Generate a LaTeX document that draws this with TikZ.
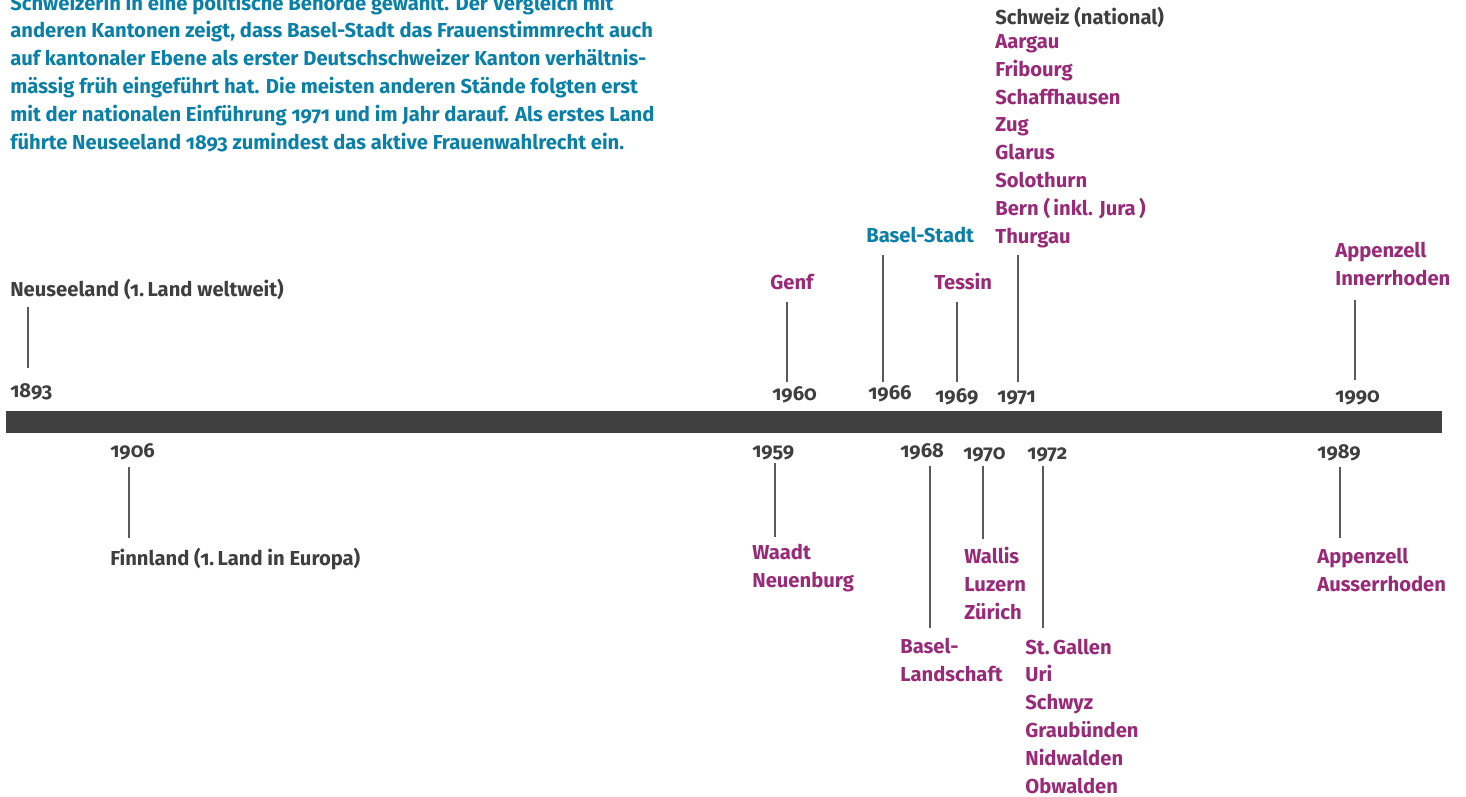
\documentclass[tikz,border=0pt]{standalone}
\usepackage{fontspec}
\setmainfont{Fira Sans}[Numbers=OldStyle]
\usepackage{xcolor}
\usepackage{tikz}
\usetikzlibrary{positioning}

\definecolor{bsblue}{HTML}{0A80A8}
\definecolor{bsmagenta}{HTML}{992A78}
\definecolor{bsgray}{HTML}{3F3F3F}
\definecolor{bsbar}{HTML}{404040}
\definecolor{bstick}{HTML}{5A5A5A}

\begin{document}
\begin{tikzpicture}[
    x=0.02cm, y=-0.02cm,
    lbl/.style={inner sep=0pt, anchor=base west, align=left,
        font=\bfseries\fontsize{11.5}{15.8}\selectfont},
    year/.style={lbl, text=bsgray},
    land/.style={lbl, text=bsgray},
    canton/.style={lbl, text=bsmagenta},
    intro/.style={lbl, text=bsblue},
    tick/.style={draw=bstick, line width=1.5pt/1.5}
]
\useasboundingbox (0,0) rectangle (1466,796);

% intro text (multi-line nodes sit on their last line)
\node[intro] (intro) at (10,149) {Schweizerin in eine politische Behörde gewählt. Der Vergleich mit\\
anderen Kantonen zeigt, dass Basel-Stadt das Frauenstimmrecht auch\\
auf kantonaler Ebene als erster Deutschschweizer Kanton verhältnis-\\
mässig früh eingeführt hat. Die meisten anderen Stände folgten erst\\
mit der nationalen Einführung 1971 und im Jahr darauf. Als erstes Land\\
führte Neuseeland 1893 zumindest das aktive Frauenwahlrecht ein.};

% time axis
\fill[bsbar] (6,411) rectangle (1442,433);
\node[inner sep=0pt, minimum width=0pt] (axis) at (724,422) {};

% years above the axis
\node[year] (y1893) at (10,397) {1893};
\node[year] (y1960) at (772,400) {1960};
\node[year] (y1966) at (868,399) {1966};
\node[year] (y1969) at (935,402) {1969};
\node[year] (y1971) at (997,402) {1971};
\node[year] (y1990) at (1335,402) {1990};

% years below the axis
\node[year] (y1906) at (110,457) {1906};
\node[year] (y1959) at (752,457) {1959};
\node[year] (y1968) at (900,457) {1968};
\node[year] (y1970) at (963,459) {1970};
\node[year] (y1972) at (1027,459) {1972};
\node[year] (y1989) at (1317,458) {1989};

% labels above
\node[land] (nz) at (10,296) {Neuseeland (1.\,Land weltweit)};
\node[canton] (genf) at (770,289) {Genf};
\node[intro] (bs) at (866,242) {Basel-Stadt};
\node[canton] (tessin) at (934,289) {Tessin};
\node[land] (ch) at (995,24) {Schweiz (national)};
\node[canton] (ch71) at (995,243) {Aargau\\Fribourg\\Schaffhausen\\Zug\\Glarus\\Solothurn\\Bern (\,inkl. Jura\,)\\Thurgau};
\node[canton] (ai) at (1335,285) {Appenzell\\Innerrhoden};

% labels below
\node[land] (fin) at (110,565) {Finnland (1.\,Land in Europa)};
\node[canton] (vd) at (752,587) {Waadt\\Neuenburg};
\node[canton] (bl) at (900,681) {Basel-\\Landschaft};
\node[canton] (vs) at (964,619) {Wallis\\Luzern\\Zürich};
\node[canton] (sg) at (1025,793) {St.\,Gallen\\Uri\\Schwyz\\Graubünden\\Nidwalden\\Obwalden};
\node[canton] (ar) at (1317,591) {Appenzell\\Ausserrhoden};

% ticks
\foreach \n/\x/\ya/\yb in {nz/28/307/368, genf/787/302/382, bs/883/255/382,
    tessin/957/302/382, ch/1018/255/382, ai/1355/300/380,
    fin/129/467/538, vd/775/463/537, bl/930/466/628,
    vs/983/466/539, sg/1043/466/628, ar/1340/467/538} {
  \coordinate (\n-top) at (\x,\ya);
  \coordinate (\n-bot) at (\x,\yb);
  \draw[tick] (\n-top) -- (\n-bot);
}
\end{tikzpicture}
\end{document}
